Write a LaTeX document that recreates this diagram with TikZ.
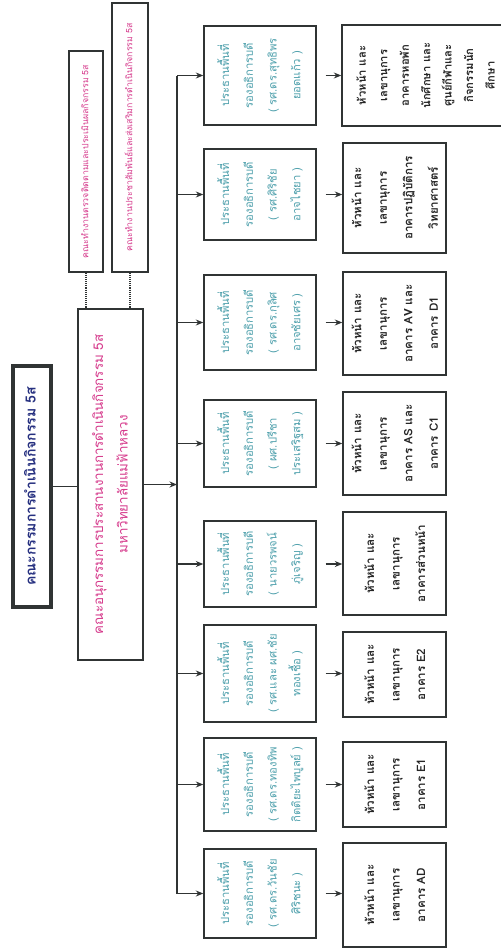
\documentclass[tikz,border=0pt]{standalone}
\usepackage{fontspec}
\setmainfont{Loma}[Script=Thai]
\usepackage{graphicx}
\usetikzlibrary{arrows.meta}

\definecolor{pinktext}{RGB}{214,58,140}
\definecolor{tealtext}{RGB}{78,160,172}
\definecolor{navytext}{RGB}{38,48,128}
\definecolor{boxline}{RGB}{48,52,52}

\newcommand{\vlines}[1]{\rotatebox{90}{\begin{tabular}{@{}c@{}}#1\end{tabular}}}

\tikzset{
  box/.style={draw=boxline, line width=0.8pt, inner sep=0pt, fill=white},
  topbox/.style={box, line width=1.8pt, text=navytext, font=\bfseries\fontsize{8}{10}\selectfont},
  subbox/.style={box, text=pinktext, font=\fontsize{7.6}{14}\selectfont},
  wgbox/.style={box, text=pinktext, font=\fontsize{5}{7}\selectfont},
  midbox/.style={box, minimum width=112*0.2mm, text=tealtext, font=\fontsize{6.4}{13.5}\selectfont},
  bldgbox/.style={box, minimum width=103*0.2mm, text=black!85, font=\bfseries\fontsize{6.6}{14.5}\selectfont},
  arr/.style={-{Stealth[length=1.5mm,width=1.2mm]}, line width=0.6pt, draw=boxline},
  dots/.style={line width=1.4pt, dash pattern=on 0.6pt off 0.6pt, draw=boxline}
}

\begin{document}
\begin{tikzpicture}[x=0.2mm,y=-0.2mm]

\fill[white] (0,0) rectangle (500,948);
\useasboundingbox (0,0) rectangle (500,948);

% top levels
\node[topbox, minimum width=38*0.2mm, minimum height=241*0.2mm] (cttee) at (32,486.5)
  {\vlines{คณะกรรมการดำเนินกิจกรรม 5ส}};
\node[subbox, minimum width=65*0.2mm, minimum height=351*0.2mm] (subcom) at (110.5,484.5)
  {\vlines{คณะอนุกรรมการประสานงานการดำเนินกิจกรรม 5ส\\ มหาวิทยาลัยแม่ฟ้าหลวง}};
\node[wgbox, minimum width=34*0.2mm, minimum height=221*0.2mm] (audit) at (86,161.5)
  {\vlines{คณะทำงานตรวจติดตามและประเมินผลกิจกรรม 5ส}};
\node[wgbox, minimum width=36*0.2mm, minimum height=269*0.2mm] (promo) at (130,137.5)
  {\vlines{คณะทำงานประชาสัมพันธ์และส่งเสริมการดำเนินกิจกรรม 5ส}};

% area chairs
\node[midbox, minimum height=99*0.2mm] (m1) at (260,75.5)
  {\vlines{ประธานพื้นที่\\ รองอธิการบดี\\ ( รศ.ดร.สุทธิพร\\ ยอดแก้ว )}};
\node[midbox, minimum height=91*0.2mm] (m2) at (260,194.5)
  {\vlines{ประธานพื้นที่\\ รองอธิการบดี\\ ( รศ.ศิริชัย\\ อาจไชยา )}};
\node[midbox, minimum height=95*0.2mm] (m3) at (260,322.5)
  {\vlines{ประธานพื้นที่\\ รองอธิการบดี\\ ( รศ.ดร.กุลิศ\\ อาจชัยเศร )}};
\node[midbox, minimum height=87*0.2mm] (m4) at (260,443.5)
  {\vlines{ประธานพื้นที่\\ รองอธิการบดี\\ ( ผศ.ปรีชา\\ ประเสริฐสม )}};
\node[midbox, minimum height=86*0.2mm] (m5) at (260,564)
  {\vlines{ประธานพื้นที่\\ รองอธิการบดี\\ ( นายวรพจน์\\ ภู่เจริญ )}};
\node[midbox, minimum height=97*0.2mm] (m6) at (260,673.5)
  {\vlines{ประธานพื้นที่\\ รองอธิการบดี\\ ( รศ.และ ผศ.ชัย\\ ทองเชื้อ )}};
\node[midbox, minimum height=93*0.2mm] (m7) at (260,784.5)
  {\vlines{ประธานพื้นที่\\ รองอธิการบดี\\ ( รศ.ดร.ทองทิพ\\ กิตติยะไพบูลย์ )}};
\node[midbox, minimum height=89*0.2mm] (m8) at (260,893.5)
  {\vlines{ประธานพื้นที่\\ รองอธิการบดี\\ ( รศ.ดร.วันชัย\\ ศิริชนะ )}};

% buildings
\node[bldgbox, font=\bfseries\fontsize{6.4}{12.2}\selectfont, minimum width=168*0.2mm, minimum height=101*0.2mm] (r1) at (426,75.5)
  {\vlines{หัวหน้า และ\\ เลขานุการ\\ อาคารหอพัก\\ นักศึกษา และ\\ ศูนย์กีฬาและ\\ กิจกรรมนัก\\ ศึกษา}};
\node[bldgbox, minimum height=110*0.2mm] (r2) at (394.5,198)
  {\vlines{หัวหน้า และ\\ เลขานุการ\\ อาคารปฏิบัติการ\\ วิทยาศาสตร์}};
\node[bldgbox, minimum height=103*0.2mm] (r3) at (394.5,323.5)
  {\vlines{หัวหน้า และ\\ เลขานุการ\\ อาคาร AV และ\\ อาคาร D1}};
\node[bldgbox, minimum height=103*0.2mm] (r4) at (394.5,443.5)
  {\vlines{หัวหน้า และ\\ เลขานุการ\\ อาคาร AS และ\\ อาคาร C1}};
\node[bldgbox, minimum height=103*0.2mm] (r5) at (394.5,563.5)
  {\vlines{หัวหน้า และ\\ เลขานุการ\\ อาคารส่วนหน้า}};
\node[bldgbox, minimum height=85*0.2mm] (r6) at (394.5,674.5)
  {\vlines{หัวหน้า และ\\ เลขานุการ\\ อาคาร E2}};
\node[bldgbox, minimum height=85*0.2mm] (r7) at (394.5,784.5)
  {\vlines{หัวหน้า และ\\ เลขานุการ\\ อาคาร E1}};
\node[bldgbox, minimum height=104*0.2mm] (r8) at (394.5,895)
  {\vlines{หัวหน้า และ\\ เลขานุการ\\ อาคาร AD}};

\coordinate (bus) at (177,0);

\draw[line width=0.6pt, draw=boxline] (cttee.east) -- (cttee.east -| subcom.west);
\draw[dots] (audit.south) -- (audit.south |- subcom.north);
\draw[dots] (promo.south) -- (promo.south |- subcom.north);
\draw[arr] (subcom.east) -- (subcom.east -| bus);
\draw[line width=0.8pt, draw=boxline] (bus |- m1.west) -- (bus |- m8.west);

\foreach \i in {1,...,8} {
  \draw[arr] (bus |- m\i.west) -- (m\i.west);
  \draw[arr] ([xshift=9*0.2mm]m\i.east) -- (r\i.west |- m\i.east);
}

\end{tikzpicture}
\end{document}
